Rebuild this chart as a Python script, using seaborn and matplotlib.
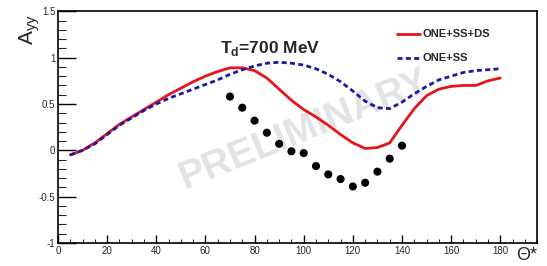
import numpy as np
import pandas as pd
import matplotlib
matplotlib.use("Agg")
import matplotlib.pyplot as plt
import seaborn as sns
from matplotlib.ticker import MultipleLocator

theta_curve = [5, 10, 15, 20, 25, 30, 35, 40, 45, 50, 55, 60, 65, 70, 75, 80, 85, 90,
               95, 100, 105, 110, 115, 120, 125, 130, 135, 140, 145, 150, 155, 160,
               165, 170, 175, 180]
ayy_one_ss_ds = [-0.05, 0.0, 0.08, 0.18, 0.28, 0.36, 0.44, 0.52, 0.60, 0.67, 0.74, 0.80,
                 0.85, 0.89, 0.89, 0.86, 0.78, 0.66, 0.54, 0.44, 0.36, 0.27, 0.17, 0.08,
                 0.02, 0.03, 0.08, 0.27, 0.45, 0.59, 0.66, 0.69, 0.70, 0.70, 0.75, 0.78]
ayy_one_ss = [-0.05, 0.0, 0.07, 0.17, 0.27, 0.35, 0.43, 0.50, 0.56, 0.61, 0.66, 0.71,
              0.76, 0.82, 0.87, 0.91, 0.94, 0.95, 0.94, 0.92, 0.88, 0.82, 0.74, 0.64,
              0.53, 0.46, 0.45, 0.52, 0.61, 0.69, 0.76, 0.80, 0.84, 0.86, 0.87, 0.88]
theta_data = [70, 75, 80, 85, 90, 95, 100, 105, 110, 115, 120, 125, 130, 135, 140]
ayy_data = [0.58, 0.46, 0.32, 0.19, 0.07, -0.01, -0.03, -0.17, -0.26, -0.31, -0.39,
            -0.35, -0.23, -0.09, 0.05]
series_names = ["ONE+SS+DS", "ONE+SS"]

df = pd.DataFrame({
    "theta": theta_curve * 2,
    "Ayy": ayy_one_ss_ds + ayy_one_ss,
    "model": [series_names[0]] * len(theta_curve) + [series_names[1]] * len(theta_curve),
})
pts = pd.DataFrame({"theta": theta_data, "Ayy": ayy_data})

sns.set_style("white")
plt.rcParams["font.family"] = ["Liberation Sans", "DejaVu Sans"]

fig = plt.figure(figsize=(5.47, 2.66), dpi=100)
ax = fig.add_axes([0.106, 0.0865, 0.876, 0.871])

# watermark
ax.text(100, 0.22, "PRELIMINARY", fontsize=28, fontweight="bold", color="#e3e3e3",
        rotation=22, ha="center", va="center", zorder=0)

sns.lineplot(data=df, x="theta", y="Ayy", hue="model", style="model",
             palette={series_names[0]: "#e8141c", series_names[1]: "#1a1aa8"},
             dashes={series_names[0]: "", series_names[1]: (1.8, 1.2)},
             linewidth=2.0, ax=ax, legend=False, zorder=3)
sns.scatterplot(data=pts, x="theta", y="Ayy", color="black", s=34, edgecolor="none",
                ax=ax, zorder=4)

ax.set_xlim(0, 195)
ax.set_ylim(-1, 1.5)
ax.xaxis.set_major_locator(MultipleLocator(20))
ax.xaxis.set_minor_locator(MultipleLocator(5))
ax.yaxis.set_major_locator(MultipleLocator(0.5))
ax.yaxis.set_minor_locator(MultipleLocator(0.1))
ax.set_xticks([0, 20, 40, 60, 80, 100, 120, 140, 160, 180])
ax.set_xticklabels(["0", "20", "40", "60", "80", "100", "120", "140", "160", "180"])
ax.set_yticks([-1, -0.5, 0, 0.5, 1, 1.5])
ax.set_yticklabels(["-1", "-0.5", "0", "0.5", "1", "1.5"])
ax.tick_params(axis="both", which="major", direction="in", length=13, width=1,
               labelsize=7, pad=2, color="black", bottom=True, left=True)
ax.tick_params(axis="x", which="major", length=6)
ax.tick_params(axis="x", which="minor", direction="in", length=3, width=0.8, bottom=True)
ax.tick_params(axis="y", which="minor", direction="in", length=6, width=0.8, left=True)
for s in ax.spines.values():
    s.set_color("black")
    s.set_linewidth(1.2)
ax.set_xlabel("")
ax.set_ylabel("")

fig.text(0.055, 0.89, "A$_{\\mathregular{yy}}$", fontsize=15, rotation=90,
         ha="center", va="center")
fig.text(0.963, 0.04, "\u0398*", fontsize=13, ha="center", va="center")
ax.text(66, 1.1, "T$_{\\mathregular{d}}$=700 MeV", fontsize=12.5, fontweight="bold",
        ha="left", va="center")

# legend
ax.plot([138, 147.5], [1.25, 1.25], color="#e8141c", lw=2.0)
ax.plot([138, 147.5], [1.0, 1.0], color="#1a1aa8", lw=2.0, dashes=(1.8, 1.2))
ax.text(148.5, 1.25, series_names[0], fontsize=8, fontweight="bold", va="center")
ax.text(148.5, 1.0, series_names[1], fontsize=8, fontweight="bold", va="center")

fig.savefig("out.png", dpi=100)
